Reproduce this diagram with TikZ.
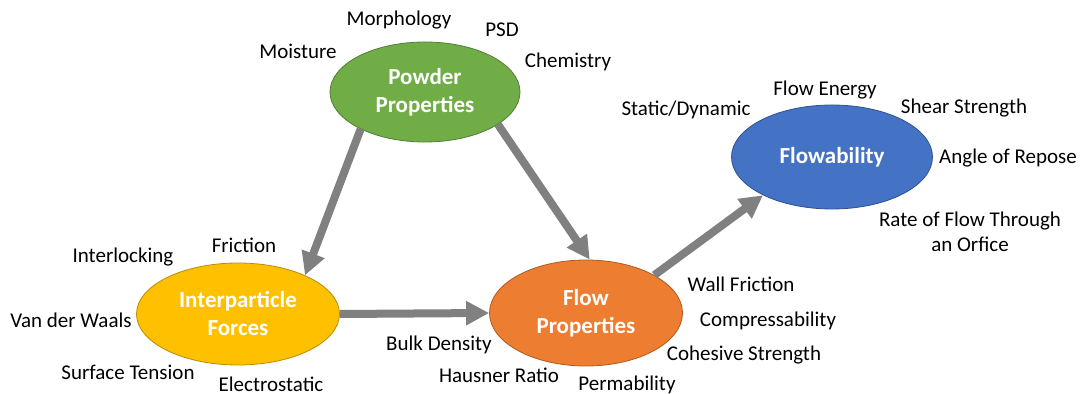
\documentclass[tikz,border=0pt]{standalone}
\usepackage{fontspec}
\setmainfont{Carlito}
\usepackage{tikz}
\usetikzlibrary{shapes.geometric,arrows.meta}
\definecolor{powder}{RGB}{112,173,71}
\definecolor{powderline}{RGB}{80,126,50}
\definecolor{inter}{RGB}{255,192,0}
\definecolor{interline}{RGB}{188,140,0}
\definecolor{flow}{RGB}{237,125,49}
\definecolor{flowline}{RGB}{174,90,33}
\definecolor{flowab}{RGB}{68,114,196}
\definecolor{flowabline}{RGB}{47,82,143}
\definecolor{arrowgray}{RGB}{128,128,128}

\begin{document}
\begin{tikzpicture}[
    x=0.5pt, y=-0.5pt,
    blob/.style={ellipse, draw, thin, inner sep=0pt, align=center, text=white, font=\fontsize{11.5}{14}\selectfont\bfseries},
    prop/.style={align=center, inner sep=0pt, font=\fontsize{10.5}{12.5}\selectfont},
    arrow/.style={-{Triangle[length=11.5pt,width=11.5pt]}, line width=4pt, arrowgray}
]
\useasboundingbox (0,0) rectangle (1081,394);

% Main ellipses
\node[blob, fill=powder, draw=powderline, minimum width=95pt, minimum height=50pt] (pp) at (425,92) {Powder\\Properties};
\node[blob, fill=inter, draw=interline, minimum width=101.5pt, minimum height=51pt] (ipf) at (238,314) {Interparticle\\Forces};
\node[blob, fill=flow, draw=flowline, minimum width=96.5pt, minimum height=53pt] (fp) at (586,313) {Flow\\Properties};
\node[blob, fill=flowab, draw=flowabline, minimum width=100.5pt, minimum height=52pt] (fl) at (832,157) {Flowability};

% Arrows
\draw[arrow] (pp.210) -- (ipf.30);
\draw[arrow] (pp.336) -- (fp.86);
\draw[arrow] (ipf.east) -- (fp.west);
\draw[arrow] (fp.29) -- (fl.209);

% Powder properties
\node[prop] (morph) at (399,20) {Morphology};
\node[prop] (psd) at (502,30) {PSD};
\node[prop] (moist) at (298,51) {Moisture};
\node[prop] (chem) at (568,62) {Chemistry};

% Interparticle forces
\node[prop] (interl) at (123,257) {Interlocking};
\node[prop] (fric) at (244,245) {Friction};
\node[prop] (vdw) at (71,320) {Van der Waals};
\node[prop] (surf) at (128,372) {Surface Tension};
\node[prop] (elec) at (271,384) {Electrostatic};

% Flow properties
\node[prop] (bulk) at (439,345) {Bulk Density};
\node[prop] (haus) at (499,375) {Hausner Ratio};
\node[prop] (perm) at (627,385) {Permability};
\node[prop] (wall) at (741,284) {Wall Friction};
\node[prop] (comp) at (768,321) {Compressability};
\node[prop] (coh) at (744,355) {Cohesive Strength};

% Flowability
\node[prop] (stat) at (686,110) {Static/Dynamic};
\node[prop] (energy) at (825,90) {Flow Energy};
\node[prop] (shear) at (964,108) {Shear Strength};
\node[prop] (angle) at (1008,158) {Angle of Repose};
\node[prop] (rate) at (970,232) {Rate of Flow Through\\an Orfice};

\end{tikzpicture}
\end{document}
